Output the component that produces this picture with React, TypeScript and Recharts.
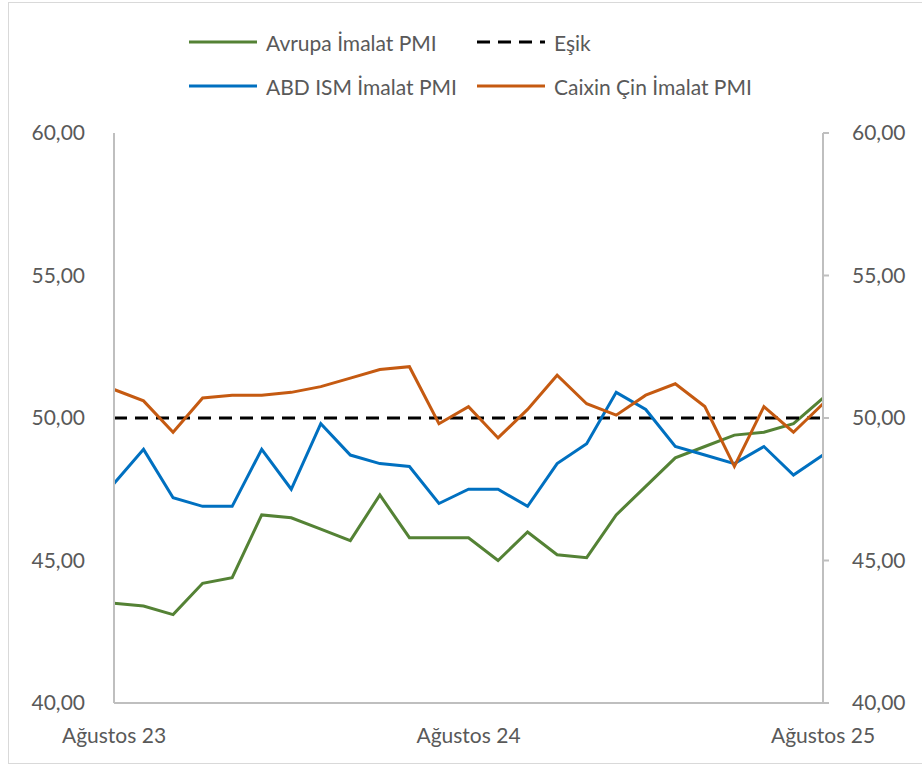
import React from "react";
import { Line, LineChart, XAxis, YAxis } from "recharts";

const months = [
  "Ağustos 23", "Eylül 23", "Ekim 23", "Kasım 23", "Aralık 23",
  "Ocak 24", "Şubat 24", "Mart 24", "Nisan 24", "Mayıs 24", "Haziran 24", "Temmuz 24",
  "Ağustos 24", "Eylül 24", "Ekim 24", "Kasım 24", "Aralık 24",
  "Ocak 25", "Şubat 25", "Mart 25", "Nisan 25", "Mayıs 25", "Haziran 25", "Temmuz 25",
  "Ağustos 25",
];

const avrupa = [
  43.5, 43.4, 43.1, 44.2, 44.4, 46.6, 46.5, 46.1, 45.7, 47.3, 45.8, 45.8,
  45.8, 45.0, 46.0, 45.2, 45.1, 46.6, 47.6, 48.6, 49.0, 49.4, 49.5, 49.8, 50.7,
];
const esik = [
  50, 50, 50, 50, 50, 50, 50, 50, 50, 50, 50, 50,
  50, 50, 50, 50, 50, 50, 50, 50, 50, 50, 50, 50, 50,
];
const abd = [
  47.7, 48.9, 47.2, 46.9, 46.9, 48.9, 47.5, 49.8, 48.7, 48.4, 48.3, 47.0,
  47.5, 47.5, 46.9, 48.4, 49.1, 50.9, 50.3, 49.0, 48.7, 48.4, 49.0, 48.0, 48.7,
];
const caixin = [
  51.0, 50.6, 49.5, 50.7, 50.8, 50.8, 50.9, 51.1, 51.4, 51.7, 51.8, 49.8,
  50.4, 49.3, 50.3, 51.5, 50.5, 50.1, 50.8, 51.2, 50.4, 48.3, 50.4, 49.5, 50.5,
];

const yTicks = [40, 45, 50, 55, 60];

// the threshold line sits on the right axis so that axis gets its own ticks
const series = [
  { key: "avrupa", name: "Avrupa İmalat PMI", color: "#548235", dash: undefined, axis: "left" },
  { key: "esik", name: "Eşik", color: "#000000", dash: "13 8", axis: "right" },
  { key: "abd", name: "ABD ISM İmalat PMI", color: "#0070C0", dash: undefined, axis: "left" },
  { key: "caixin", name: "Caixin Çin İmalat PMI", color: "#C55A11", dash: undefined, axis: "left" },
];

const data = months.map((month, i) => ({
  month,
  avrupa: avrupa[i],
  esik: esik[i],
  abd: abd[i],
  caixin: caixin[i],
}));

const fmt = (v: number) => v.toFixed(2).replace(".", ",");
const textColor = "#595959";
const axisColor = "#BFBFBF";
const font = "Lato, 'Open Sans', sans-serif";

const legendCols = [189, 477];
const legendRows = [42, 86];

function Legend() {
  return (
    <>
      {series.map((s, i) => {
        const x = legendCols[i % 2];
        const y = legendRows[Math.floor(i / 2)];
        return (
          <div
            key={s.key}
            style={{
              position: "absolute",
              left: x,
              top: y - 14,
              height: 28,
              display: "flex",
              alignItems: "center",
              whiteSpace: "nowrap",
            }}
          >
            <svg width={68} height={6} style={{ marginRight: 9 }}>
              <line
                x1={0}
                y1={3}
                x2={68}
                y2={3}
                stroke={s.color}
                strokeWidth={3}
                strokeDasharray={s.dash}
              />
            </svg>
            <span style={{ fontSize: 21, color: textColor }}>{s.name}</span>
          </div>
        );
      })}
    </>
  );
}

export default function App() {
  return (
    <div
      style={{
        position: "absolute",
        left: 0,
        top: 0,
        width: 922,
        height: 766,
        background: "#fff",
        fontFamily: font,
        overflow: "hidden",
      }}
    >
      <div
        style={{
          position: "absolute",
          left: 8,
          top: 2,
          width: 930,
          height: 760,
          border: "1.5px solid #D9D9D9",
        }}
      />
      <Legend />
      <div style={{ position: "absolute", left: 0, top: 0 }}>
        <LineChart
          width={922}
          height={766}
          data={data}
          margin={{ top: 133, right: 0, bottom: 0, left: 0 }}
        >
          <XAxis
            dataKey="month"
            interval={11}
            height={63}
            axisLine={{ stroke: axisColor, strokeWidth: 2 }}
            tickLine={false}
            tickSize={6}
            tickMargin={19}
            tick={{ fill: textColor, fontSize: 21, fontFamily: font }}
          />
          <YAxis
            yAxisId="left"
            domain={[40, 60]}
            ticks={yTicks}
            width={114}
            axisLine={{ stroke: axisColor, strokeWidth: 2 }}
            tickLine={false}
            tickSize={6}
            tickMargin={23}
            tickFormatter={fmt}
            tick={{ fill: textColor, fontSize: 21, fontFamily: font }}
          />
          <YAxis
            yAxisId="right"
            orientation="right"
            domain={[40, 60]}
            ticks={yTicks}
            width={99}
            axisLine={{ stroke: axisColor, strokeWidth: 2 }}
            tickLine={{ stroke: axisColor, strokeWidth: 2 }}
            tickSize={6}
            tickMargin={23}
            tickFormatter={fmt}
            tick={{ fill: textColor, fontSize: 21, fontFamily: font }}
          />
          {series.map((s) => (
            <Line
              key={s.key}
              yAxisId={s.axis}
              type="linear"
              dataKey={s.key}
              name={s.name}
              stroke={s.color}
              strokeWidth={3}
              strokeDasharray={s.dash}
              dot={false}
              activeDot={false}
              isAnimationActive={false}
            />
          ))}
        </LineChart>
      </div>
    </div>
  );
}
